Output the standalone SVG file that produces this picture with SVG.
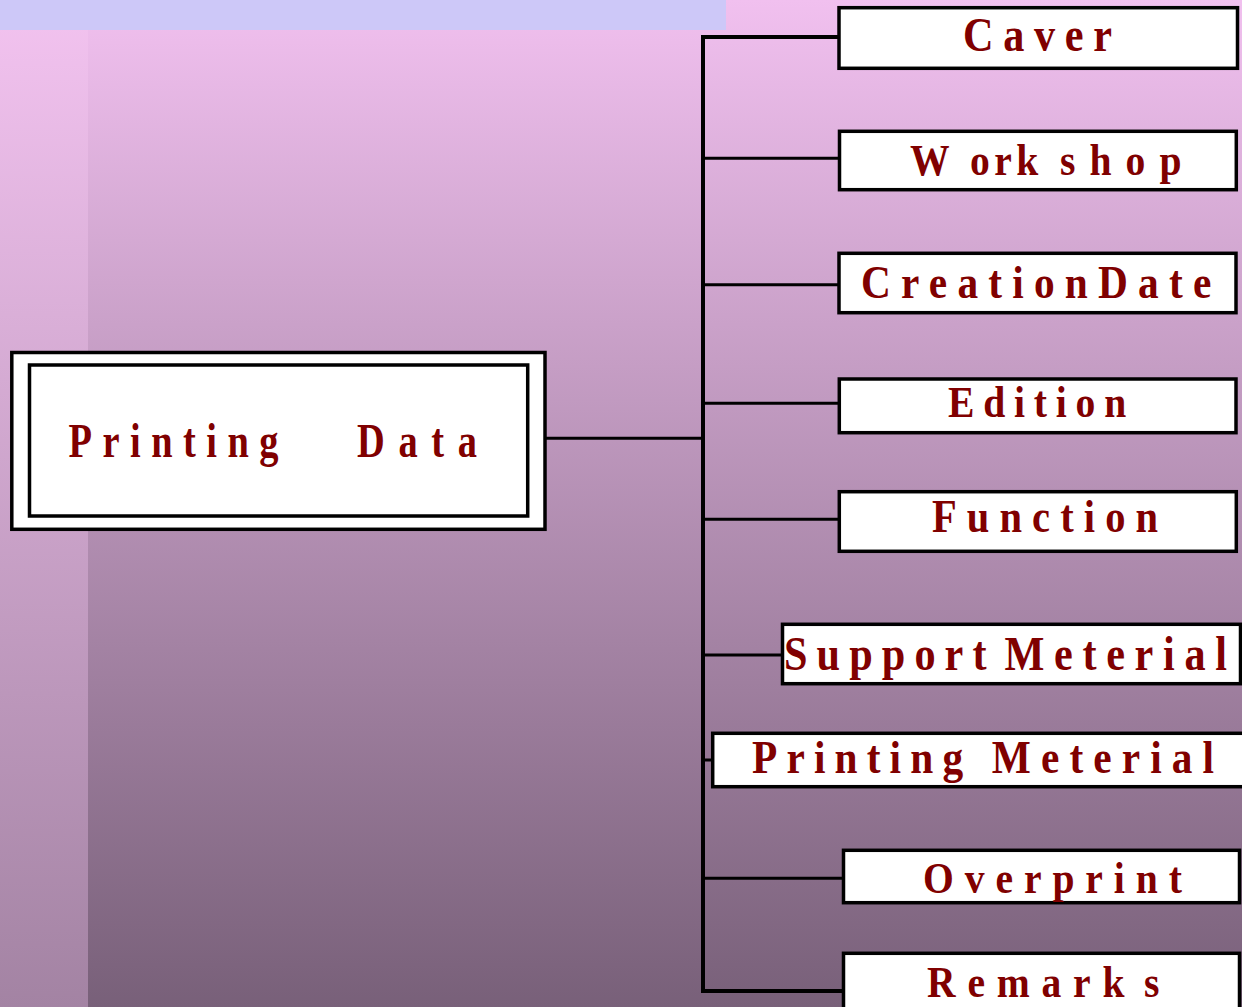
<svg xmlns="http://www.w3.org/2000/svg" width="1242" height="1007" viewBox="0 0 1242 1007">
<defs>
<linearGradient id="bgMain" x1="0" y1="0" x2="0" y2="1">
<stop offset="0" stop-color="#F1C0EF"/>
<stop offset="1" stop-color="#786079"/>
</linearGradient>
<linearGradient id="bgLeft" x1="0" y1="0" x2="0" y2="1">
<stop offset="0" stop-color="#F3C3F0"/>
<stop offset="1" stop-color="#A383A3"/>
</linearGradient>
<style>
.box{fill:#FFFFFF;stroke:#000000;stroke-width:3.5}
.conn{fill:none;stroke:#000000;stroke-width:3}
.trunk{fill:none;stroke:#000000;stroke-width:4}
.lbl{font-family:"Liberation Serif","Times New Roman",serif;font-weight:bold;fill:#800000}
</style>
</defs>
<rect x="0" y="0" width="1242" height="1007" fill="url(#bgMain)"/>
<rect x="0" y="0" width="88" height="1007" fill="url(#bgLeft)"/>
<rect x="0" y="0" width="726" height="30" fill="#CDC8F8"/>

<g id="connectors">
<path class="trunk" d="M839,37 H703 V991 H843.5"/>
<path class="conn" d="M703,158.3 H839.5"/>
<path class="conn" d="M703,284.7 H839"/>
<path class="conn" d="M703,403.3 H839.3"/>
<path class="conn" d="M703,519.3 H839.3"/>
<path class="conn" d="M703,655 H782.5"/>
<path class="conn" d="M703,760 H712.7"/>
<path class="conn" d="M703,878.3 H843.5"/>
<path class="conn" d="M545,438.3 H703"/>
</g>

<g id="node-printing-data">
<rect class="box" x="11.8" y="352.5" width="533.2" height="176.8"/>
<rect class="box" x="29.5" y="365" width="498.2" height="151"/>
<text class="lbl" font-size="48" transform="translate(68.6,456.7) scale(0.8,1)"><tspan x="0" letter-spacing="13.1">Printing </tspan><tspan x="360.5" letter-spacing="17.1">Data</tspan></text>
</g>

<g id="node-caver">
<rect class="box" x="839" y="7.7" width="398.5" height="60.6"/>
<text class="lbl" font-size="48" letter-spacing="11" transform="translate(963,50.5) scale(0.88,1)">Caver</text>
</g>

<g id="node-workshop">
<rect class="box" x="839.5" y="131.3" width="396.8" height="58.4"/>
<text class="lbl" font-size="45" transform="translate(910,175) scale(0.88,1)"><tspan x="0">W</tspan><tspan x="68.2" letter-spacing="5">ork</tspan><tspan x="170.5" letter-spacing="16">shop</tspan></text>
</g>

<g id="node-creationdate">
<rect class="box" x="839" y="253.3" width="397" height="59.4"/>
<text class="lbl" font-size="47" letter-spacing="11.6" transform="translate(861,298.3) scale(0.88,1)">CreationDate</text>
</g>

<g id="node-edition">
<rect class="box" x="839.3" y="379" width="396.7" height="53.7"/>
<text class="lbl" font-size="45" letter-spacing="10" transform="translate(948,416.7) scale(0.88,1)">Edition</text>
</g>

<g id="node-function">
<rect class="box" x="839.3" y="491.7" width="397" height="59.6"/>
<text class="lbl" font-size="46" letter-spacing="11.5" transform="translate(932,532.3) scale(0.88,1)">Function</text>
</g>

<g id="node-support-meterial">
<rect class="box" x="782.5" y="624.3" width="458" height="59.4"/>
<text class="lbl" font-size="48" transform="translate(784,670) scale(0.88,1)"><tspan x="0" letter-spacing="10.35">Support </tspan><tspan x="250.5" letter-spacing="11">Meterial</tspan></text>
</g>

<g id="node-printing-meterial">
<rect class="box" x="712.7" y="733.3" width="540" height="53.4"/>
<text class="lbl" font-size="47" transform="translate(752,772.7) scale(0.88,1)"><tspan x="0" letter-spacing="10.4">Printing </tspan><tspan x="272.5" letter-spacing="11.5">Meterial</tspan></text>
</g>

<g id="node-overprint">
<rect class="box" x="843.5" y="850.3" width="396" height="52.4"/>
<text class="lbl" font-size="45" letter-spacing="12.4" transform="translate(923,892.5) scale(0.88,1)">Overprint</text>
</g>

<g id="node-remarks">
<rect class="box" x="843.5" y="953.3" width="396" height="80"/>
<text class="lbl" font-size="45" transform="translate(927,996.7) scale(0.88,1)"><tspan x="0" letter-spacing="13.4">Remark</tspan><tspan x="246.6">s</tspan></text>
</g>
</svg>
